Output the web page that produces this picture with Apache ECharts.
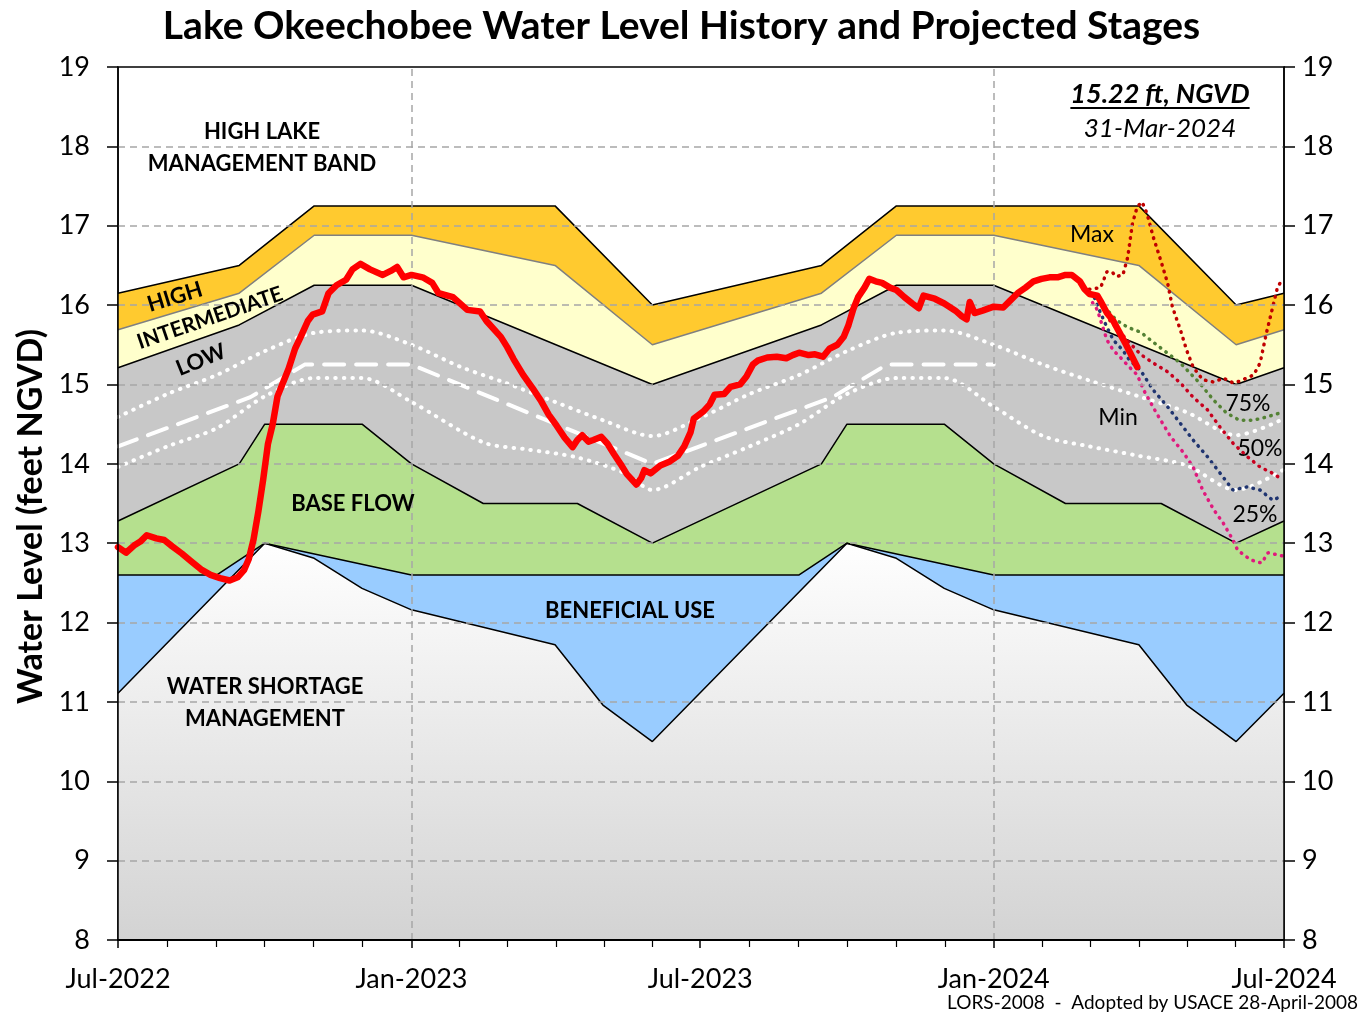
<!DOCTYPE html>
<html>
<head>
<meta charset="utf-8">
<title>Lake Okeechobee Water Level</title>
<script src="https://cdn.jsdelivr.net/npm/echarts@6/dist/echarts.min.js"></script>
<style>
html,body{margin:0;padding:0;background:#fff}
#main{width:1363px;height:1018px}
</style>
</head>
<body>
<div id="main"></div>
<script>
// axis range and ticks
var dateStart = '2022-07-01', dateEnd = '2024-07-01';
var yTicks = [8, 9, 10, 11, 12, 13, 14, 15, 16, 17, 18, 19];
var janLines = ['2023-01-01', '2024-01-01'];
var monthNames = ['Jan','Feb','Mar','Apr','May','Jun','Jul','Aug','Sep','Oct','Nov','Dec'];

// LORS-2008 schedule lines
var highTop = [['2022-07-01',16.15],['2022-09-15',16.5],['2022-11-01',17.25],['2023-04-01',17.25],['2023-06-01',16.0],
  ['2023-09-15',16.5],['2023-11-01',17.25],['2024-04-01',17.25],['2024-06-01',16.0],['2024-07-01',16.15]];
var highInt = [['2022-07-01',15.69],['2022-09-15',16.15],['2022-11-01',16.88],['2023-01-01',16.88],['2023-04-01',16.5],['2023-06-01',15.5],
  ['2023-09-15',16.15],['2023-11-01',16.88],['2024-01-01',16.88],['2024-04-01',16.5],['2024-06-01',15.5],['2024-07-01',15.69]];
var intLow = [['2022-07-01',15.21],['2022-09-15',15.75],['2022-11-01',16.25],['2023-01-01',16.25],['2023-06-01',15.0],
  ['2023-09-15',15.75],['2023-11-01',16.25],['2024-01-01',16.25],['2024-06-01',15.0],['2024-07-01',15.21]];
var baseFlow = [['2022-07-01',13.28],['2022-09-15',14.0],['2022-10-01',14.5],['2022-12-01',14.5],['2023-01-01',14.0],['2023-02-15',13.5],['2023-04-15',13.5],['2023-06-01',13.0],
  ['2023-09-15',14.0],['2023-10-01',14.5],['2023-12-01',14.5],['2024-01-01',14.0],['2024-02-15',13.5],['2024-04-15',13.5],['2024-06-01',13.0],['2024-07-01',13.28]];
var benUse = [['2022-07-01',12.6],['2022-09-01',12.6],['2022-10-01',13.0],['2023-01-01',12.6],['2023-09-01',12.6],['2023-10-01',13.0],['2024-01-01',12.6],['2024-07-01',12.6]];
var shortage = [['2022-07-01',11.11],['2022-10-01',13.0],['2022-11-01',12.81],['2022-12-01',12.43],['2023-01-01',12.16],['2023-04-01',11.72],['2023-05-01',10.96],['2023-06-01',10.5],
  ['2023-10-01',13.0],['2023-11-01',12.81],['2023-12-01',12.43],['2024-01-01',12.16],['2024-04-01',11.72],['2024-05-01',10.96],['2024-06-01',10.5],['2024-07-01',11.11]];

// white guide lines inside the low band
var midDashed = [['2022-07-01',14.22],['2022-09-22',14.84],['2022-10-26',15.25],['2023-01-01',15.25],['2023-06-01',14.0],
  ['2023-09-22',14.84],['2023-10-26',15.25],['2024-01-01',15.25]];
var upperDotted = [['2022-07-01',14.59],['2022-08-01',14.88],['2022-09-01',15.12],['2022-10-01',15.42],['2022-11-01',15.65],['2022-12-01',15.68],
  ['2023-01-01',15.5],['2023-02-01',15.22],['2023-03-01',15.02],['2023-04-01',14.78],['2023-05-01',14.55],['2023-06-01',14.35],
  ['2023-07-01',14.58],['2023-08-01',14.88],['2023-09-01',15.12],['2023-10-01',15.42],['2023-11-01',15.65],['2023-12-01',15.68],
  ['2024-01-01',15.5],['2024-02-01',15.25],['2024-03-01',15.05],['2024-04-01',14.85],['2024-05-01',14.65],['2024-06-01',14.36],['2024-07-01',14.57]];
var lowerDotted = [['2022-07-01',13.96],['2022-08-01',14.22],['2022-09-01',14.45],['2022-10-01',14.85],['2022-11-01',15.08],['2022-12-01',15.08],
  ['2023-01-01',14.78],['2023-02-15',14.27],['2023-03-15',14.18],['2023-04-15',14.08],['2023-05-15',13.88],['2023-06-01',13.67],
  ['2023-07-01',13.96],['2023-08-01',14.22],['2023-09-01',14.5],['2023-10-01',14.88],['2023-11-01',15.08],['2023-12-01',15.08],
  ['2024-01-01',14.72],['2024-02-01',14.35],['2024-03-01',14.22],['2024-04-01',14.1],['2024-05-01',13.98],['2024-06-01',13.67],['2024-07-01',13.93]];

// observed lake stage
var observed = [
  ['2022-07-01',12.95],['2022-07-06',12.88],['2022-07-11',12.97],['2022-07-15',13.02],['2022-07-19',13.1],['2022-07-25',13.06],['2022-07-30',13.04],
  ['2022-08-04',12.96],['2022-08-10',12.87],['2022-08-16',12.77],['2022-08-22',12.67],['2022-08-28',12.6],['2022-09-03',12.56],['2022-09-09',12.53],
  ['2022-09-14',12.57],['2022-09-18',12.66],['2022-09-21',12.8],['2022-09-24',13.05],['2022-09-27',13.4],['2022-09-30',13.8],['2022-10-03',14.25],
  ['2022-10-06',14.5],['2022-10-09',14.85],['2022-10-12',15.0],['2022-10-16',15.2],['2022-10-20',15.45],['2022-10-24',15.62],['2022-10-28',15.8],
  ['2022-10-31',15.88],['2022-11-06',15.92],['2022-11-10',16.15],['2022-11-15',16.25],['2022-11-21',16.32],['2022-11-25',16.45],['2022-11-30',16.52],
  ['2022-12-06',16.45],['2022-12-14',16.38],['2022-12-19',16.43],['2022-12-23',16.48],['2022-12-27',16.35],['2023-01-01',16.38],['2023-01-08',16.35],
  ['2023-01-14',16.28],['2023-01-18',16.15],['2023-01-27',16.1],['2023-02-05',15.94],['2023-02-13',15.92],['2023-02-17',15.8],['2023-02-26',15.6],
  ['2023-03-02',15.47],['2023-03-06',15.32],['2023-03-12',15.12],['2023-03-18',14.95],['2023-03-23',14.8],['2023-03-28',14.62],['2023-04-02',14.48],
  ['2023-04-07',14.33],['2023-04-12',14.21],['2023-04-15',14.3],['2023-04-18',14.36],['2023-04-22',14.28],['2023-04-25',14.3],['2023-04-30',14.34],
  ['2023-05-04',14.25],['2023-05-08',14.12],['2023-05-12',14.0],['2023-05-16',13.87],['2023-05-22',13.74],['2023-05-25',13.82],['2023-05-27',13.92],
  ['2023-05-31',13.88],['2023-06-06',13.98],['2023-06-12',14.03],['2023-06-17',14.1],['2023-06-21',14.22],['2023-06-25',14.4],['2023-06-27',14.57],
  ['2023-07-03',14.66],['2023-07-07',14.75],['2023-07-10',14.87],['2023-07-16',14.88],['2023-07-20',14.97],['2023-07-26',15.0],['2023-07-30',15.1],
  ['2023-08-03',15.25],['2023-08-06',15.3],['2023-08-12',15.34],['2023-08-18',15.35],['2023-08-24',15.33],['2023-08-28',15.37],['2023-09-01',15.4],
  ['2023-09-07',15.37],['2023-09-11',15.38],['2023-09-16',15.35],['2023-09-20',15.45],['2023-09-25',15.5],['2023-09-29',15.6],['2023-10-02',15.75],
  ['2023-10-05',15.95],['2023-10-08',16.1],['2023-10-12',16.22],['2023-10-15',16.33],['2023-10-19',16.3],['2023-10-23',16.28],['2023-10-28',16.22],
  ['2023-11-01',16.19],['2023-11-06',16.1],['2023-11-11',16.02],['2023-11-15',15.96],['2023-11-18',16.12],['2023-11-25',16.08],['2023-12-01',16.02],
  ['2023-12-08',15.93],['2023-12-12',15.86],['2023-12-15',15.82],['2023-12-17',16.04],['2023-12-20',15.9],['2023-12-25',15.93],['2024-01-01',15.98],
  ['2024-01-07',15.97],['2024-01-11',16.05],['2024-01-16',16.15],['2024-01-21',16.22],['2024-01-26',16.3],['2024-01-31',16.33],['2024-02-05',16.35],
  ['2024-02-10',16.35],['2024-02-15',16.38],['2024-02-19',16.38],['2024-02-24',16.3],['2024-02-27',16.2],['2024-03-01',16.14],['2024-03-06',16.12],
  ['2024-03-08',16.05],['2024-03-12',15.9],['2024-03-16',15.8],['2024-03-20',15.65],['2024-03-24',15.5],['2024-03-27',15.38],['2024-03-31',15.22]];

// projected stages
var projMax = [['2024-03-01',16.2],['2024-03-08',16.22],['2024-03-12',16.42],['2024-03-15',16.42],['2024-03-18',16.36],['2024-03-22',16.38],
  ['2024-03-25',16.6],['2024-03-28',17.03],['2024-03-31',17.24],['2024-04-03',17.3],['2024-04-06',17.16],['2024-04-10',16.86],['2024-04-14',16.61],
  ['2024-04-19',16.28],['2024-04-22',15.98],['2024-04-27',15.69],['2024-05-01',15.43],['2024-05-05',15.22],['2024-05-11',15.06],['2024-05-18',15.03],
  ['2024-05-24',15.08],['2024-05-30',15.02],['2024-06-03',15.04],['2024-06-12',15.12],['2024-06-16',15.27],['2024-06-20',15.65],['2024-06-24',15.98],
  ['2024-06-27',16.23],['2024-06-30',16.32]];
var proj75 = [['2024-03-01',16.15],['2024-03-06',16.1],['2024-03-12',15.94],['2024-03-18',15.81],['2024-03-25',15.72],['2024-04-02',15.66],
  ['2024-04-14',15.47],['2024-04-27',15.27],['2024-05-09',15.02],['2024-05-18',14.8],['2024-05-26',14.64],['2024-06-03',14.55],['2024-06-12',14.55],
  ['2024-06-20',14.59],['2024-06-30',14.65]];
var proj50 = [['2024-03-01',16.15],['2024-03-08',16.05],['2024-03-14',15.8],['2024-03-25',15.55],['2024-04-02',15.38],['2024-04-10',15.27],
  ['2024-04-19',15.16],['2024-04-27',15.02],['2024-05-05',14.84],['2024-05-14',14.68],['2024-05-22',14.46],['2024-05-30',14.26],['2024-06-08',14.09],
  ['2024-06-16',13.96],['2024-06-24',13.88],['2024-06-30',13.8]];
var proj25 = [['2024-03-01',16.15],['2024-03-04',16.1],['2024-03-08',15.9],['2024-03-12',15.72],['2024-03-16',15.56],['2024-03-22',15.43],
  ['2024-03-26',15.31],['2024-04-02',15.18],['2024-04-10',14.93],['2024-04-19',14.72],['2024-04-27',14.51],['2024-05-05',14.3],['2024-05-14',14.09],
  ['2024-05-22',13.88],['2024-05-30',13.67],['2024-06-08',13.71],['2024-06-16',13.67],['2024-06-24',13.54],['2024-06-30',13.6]];
var projMin = [['2024-03-03',16.03],['2024-03-06',15.94],['2024-03-08',15.81],['2024-03-12',15.56],['2024-03-16',15.43],['2024-03-20',15.35],
  ['2024-03-26',15.22],['2024-03-31',15.12],['2024-04-04',14.93],['2024-04-12',14.64],['2024-04-21',14.34],['2024-04-29',14.14],['2024-05-05',13.96],
  ['2024-05-11',13.67],['2024-05-18',13.42],['2024-05-24',13.25],['2024-05-30',13.04],['2024-06-02',12.91],['2024-06-10',12.79],['2024-06-17',12.75],
  ['2024-06-21',12.88],['2024-06-30',12.84]];

function ts(s) {
  var p = s.split('-');
  return new Date(+p[0], +p[1] - 1, +p[2]).getTime();
}

var FONT = 'Lato, "Noto Sans", sans-serif';

function band(name, data, fill, lineColor) {
  return {
    name: name, type: 'line', data: data, symbol: 'none', z: 2, silent: true,
    lineStyle: { color: lineColor, width: 1.5 },
    areaStyle: { color: fill, opacity: 1, origin: 'start' }
  };
}
function guide(name, data, dash, width, color, z, smooth) {
  return {
    name: name, type: 'line', data: data, symbol: 'none', z: z, silent: true, smooth: smooth || false,
    lineStyle: { color: color, width: width, type: dash, cap: 'round' }
  };
}

var chart = echarts.init(document.getElementById('main'));

var shortFill = new echarts.graphic.LinearGradient(0, 540, 0, 940, [
  { offset: 0, color: '#ffffff' }, { offset: 1, color: '#d3d3d3' }], true);

var gridMarks = janLines.map(function (d) { return { xAxis: ts(d) }; })
  .concat(yTicks.slice(1, -1).map(function (v) { return { yAxis: v }; }));

var option = {
  animation: false,
  textStyle: { fontFamily: FONT },
  title: {
    text: 'Lake Okeechobee Water Level History and Projected Stages',
    left: 'center', top: 2,
    textStyle: { fontSize: 39, fontWeight: 'bold', color: '#000', fontFamily: FONT }
  },
  grid: { left: 118, right: 79, top: 67, bottom: 78, show: true, borderColor: '#000', borderWidth: 1.5, backgroundColor: 'transparent' },
  xAxis: [{
    type: 'time', min: ts(dateStart), max: ts(dateEnd), splitNumber: 4,
    minInterval: 180 * 86400000, maxInterval: 185 * 86400000, z: 6,
    axisLine: { show: true, lineStyle: { color: '#000', width: 2 } },
    axisTick: { show: true, length: 8, inside: false, lineStyle: { color: '#000', width: 1.5 } },
    minorTick: { show: true, splitNumber: 6, length: 7, lineStyle: { color: '#000', width: 1.2 } },
    splitLine: { show: false },
    axisLabel: {
      margin: 26, fontSize: 27, color: '#000', fontFamily: FONT, showMinLabel: true, showMaxLabel: true,
      formatter: function (v) { var d = new Date(v); return monthNames[d.getMonth()] + '-' + d.getFullYear(); }
    }
  }],
  yAxis: [{
    type: 'value', min: 8, max: 19, interval: 1, position: 'left', z: 6,
    name: 'Water Level (feet NGVD)', nameLocation: 'middle', nameGap: 70, nameRotate: 90,
    nameTextStyle: { fontSize: 34, fontWeight: 'bold', color: '#000', fontFamily: FONT, padding: [0, 26, 0, 0] },
    axisLine: { show: true, lineStyle: { color: '#000', width: 1.5 } },
    axisTick: { show: true, length: 11, lineStyle: { color: '#000', width: 1.5 } },
    splitLine: { show: false },
    axisLabel: { margin: 28, fontSize: 27, color: '#000', fontFamily: FONT }
  }, {
    type: 'value', min: 8, max: 19, interval: 1, position: 'right', z: 6,
    axisLine: { show: true, lineStyle: { color: '#000', width: 1.5 } },
    axisTick: { show: true, length: 11, lineStyle: { color: '#000', width: 1.5 } },
    splitLine: { show: false },
    axisLabel: { margin: 18, fontSize: 27, color: '#000', fontFamily: FONT }
  }],
  series: [
    band('High', highTop, '#ffca2f', '#000'),
    band('Intermediate', highInt, '#ffffcc', '#808080'),
    band('Low', intLow, '#c8c8c8', '#000'),
    band('Base Flow', baseFlow, '#b5e08e', '#000'),
    band('Beneficial Use', benUse, '#99ccff', '#000'),
    band('Water Shortage', shortage, shortFill, '#000'),
    {
      name: 'grid', type: 'line', data: [], z: 3, silent: true,
      markLine: {
        silent: true, symbol: 'none', label: { show: false },
        lineStyle: { color: '#a6a6a6', type: [7, 5], width: 1.5 },
        data: gridMarks
      }
    },
    guide('Upper', upperDotted, [0.5, 8], 4, '#ffffff', 3, 0.3),
    guide('Lower', lowerDotted, [0.5, 8], 4, '#ffffff', 3, 0.3),
    guide('Mid', midDashed, [20, 12], 4, '#ffffff', 3, false),
    guide('Max', projMax, [0.5, 6.5], 3.5, '#c00000', 4, false),
    guide('75%', proj75, [0.5, 6.5], 3.5, '#548235', 4, false),
    guide('50%', proj50, [0.5, 6.5], 3.5, '#c8001e', 4, false),
    guide('25%', proj25, [0.5, 6.5], 3.5, '#1f3470', 4, false),
    guide('Min', projMin, [0.5, 6.5], 3.5, '#e0197d', 4, false),
    {
      name: 'Observed', type: 'line', data: observed, symbol: 'none', z: 5, silent: true,
      lineStyle: { color: '#ff0000', width: 6.5, cap: 'round', join: 'round' }
    }
  ]
};
chart.setOption(option);

// text annotations
var labels = [
  { t: 'HIGH LAKE', x: 262, y: 132, s: 22, w: 'bold' },
  { t: 'MANAGEMENT BAND', x: 262, y: 164, s: 22, w: 'bold' },
  { t: 'HIGH', x: 175, y: 297, s: 22, w: 'bold', r: 17 },
  { t: 'INTERMEDIATE', x: 210, y: 318, s: 21, w: 'bold', r: 19 },
  { t: 'LOW', x: 201, y: 360, s: 22, w: 'bold', r: 22 },
  { t: 'BASE FLOW', x: 353, y: 504, s: 22, w: 'bold' },
  { t: 'BENEFICIAL USE', x: 630, y: 611, s: 22, w: 'bold' },
  { t: 'WATER SHORTAGE', x: 265, y: 687, s: 22, w: 'bold' },
  { t: 'MANAGEMENT', x: 265, y: 719, s: 22, w: 'bold' },
  { t: 'Max', x: 1092, y: 235, s: 23, w: 'normal' },
  { t: 'Min', x: 1118, y: 418, s: 23, w: 'normal' },
  { t: '75%', x: 1248, y: 404, s: 23, w: 'normal' },
  { t: '50%', x: 1260, y: 449, s: 23, w: 'normal' },
  { t: '25%', x: 1255, y: 515, s: 23, w: 'normal' }
];
var graphics = labels.map(function (l) {
  return {
    type: 'text', x: l.x, y: l.y, rotation: (l.r || 0) * Math.PI / 180, z: 10, silent: true,
    style: { text: l.t, align: 'center', verticalAlign: 'middle', fill: '#000',
      font: l.w + ' ' + l.s + 'px ' + FONT }
  };
});

var stageFont = 'italic bold 27px ' + FONT;
var ctx = document.createElement('canvas').getContext('2d');
ctx.font = stageFont;
var stageW = ctx.measureText('15.22 ft, NGVD').width;
graphics.push(
  { type: 'text', x: 1160, y: 94, z: 10, silent: true,
    style: { text: '15.22 ft, NGVD', align: 'center', verticalAlign: 'middle', fill: '#000', font: stageFont } },
  { type: 'line', z: 10, silent: true, shape: { x1: 1160 - stageW / 2, y1: 108, x2: 1160 + stageW / 2, y2: 108 },
    style: { stroke: '#000', lineWidth: 2 } },
  { type: 'text', x: 1160, y: 129, z: 10, silent: true,
    style: { text: '31-Mar-2024', align: 'center', verticalAlign: 'middle', fill: '#000', font: 'italic 26px ' + FONT } },
  { type: 'text', x: 1358, y: 1003, z: 10, silent: true,
    style: { text: 'LORS-2008  -  Adopted by USACE 28-April-2008', align: 'right', verticalAlign: 'middle', fill: '#000', font: '19px ' + FONT } }
);
chart.setOption({ graphic: graphics });
</script>
</body>
</html>
